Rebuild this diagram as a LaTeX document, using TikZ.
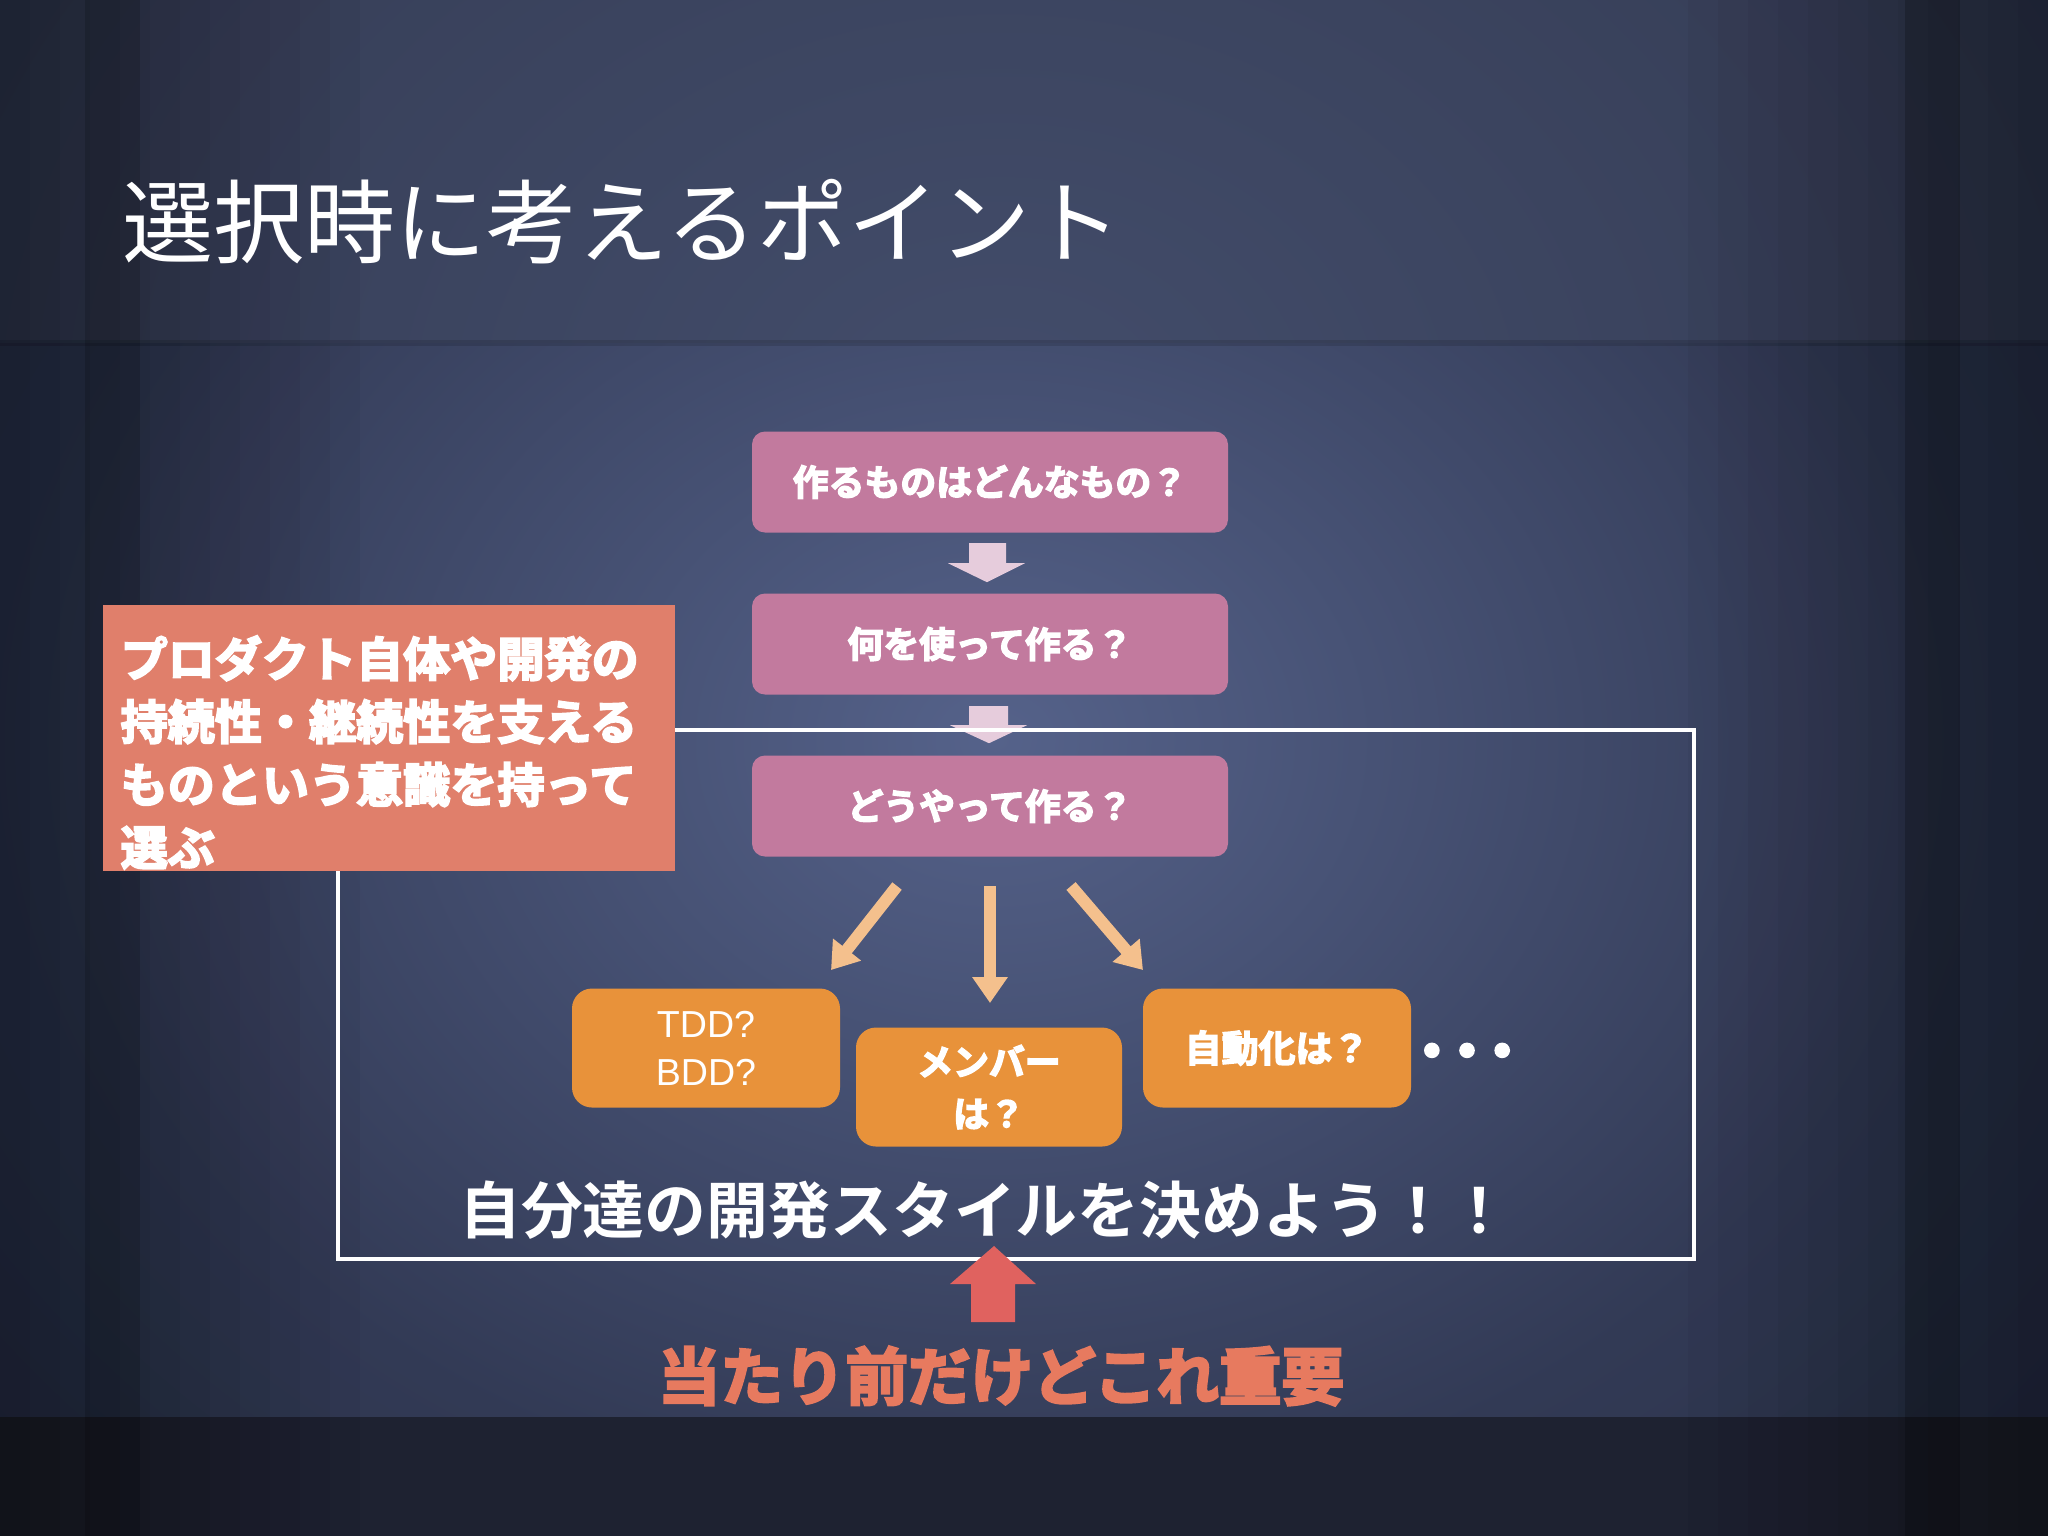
\documentclass[tikz,border=0pt]{standalone}
\usepackage{fontspec}
\setmainfont{Noto Sans CJK JP}
\newfontfamily\jpreg{Noto Sans CJK JP}
\newfontfamily\jpbold{Noto Sans CJK JP}[UprightFont={* Bold}]
\newfontfamily\jpheavy{Noto Sans CJK JP}[UprightFont={* Bold},FakeBold=4]
\newfontfamily\latinsans{Liberation Sans}
\usetikzlibrary{arrows.meta,calc}
\definecolor{pinkbox}{HTML}{C27A9E}
\definecolor{pinkarrow}{HTML}{E6CCDC}
\definecolor{orangebox}{HTML}{E8923A}
\definecolor{orangearrow}{HTML}{F4C08D}
\definecolor{salmonbox}{HTML}{E07F6B}
\definecolor{redarrow}{HTML}{E0625F}
\definecolor{redtext}{HTML}{E77A5F}
\definecolor{bgout}{HTML}{1E2231}
\definecolor{bgmid}{HTML}{323A55}
\definecolor{bgin}{HTML}{55628A}
\definecolor{topin}{HTML}{434D6B}
\definecolor{topout}{HTML}{23283A}
\definecolor{botband}{HTML}{1E2231}
\pgfdeclareradialshading{glow}{\pgfpoint{0bp}{0bp}}{color(0bp)=(bgin); color(15bp)=(bgmid); color(38bp)=(bgout); color(80bp)=(bgout)}
\pgfdeclareradialshading{topglow}{\pgfpoint{0bp}{0bp}}{color(0bp)=(topin); color(40bp)=(topout); color(80bp)=(topout)}
\tikzset{
  pinkstep/.style={fill=pinkbox, rounded corners=1.3mm, minimum width=47.6mm, minimum height=10.1mm, inner sep=0pt, text=white, font=\jpheavy\fontsize{10.2}{12}\selectfont},
  orangestep/.style={fill=orangebox, rounded corners=2mm, minimum width=26.8mm, minimum height=11.9mm, inner sep=0pt, text=white, align=center},
  thinarrow/.style={draw=orangearrow, line width=1.2mm, -{Triangle[width=3.4mm,length=2.6mm]}},
}
\begin{document}
\begin{tikzpicture}[x=0.1mm,y=-0.1mm]
\useasboundingbox (0,0) rectangle (2048,1536);
% background
\fill[bgout] (0,0) rectangle (2048,1536);
\begin{scope}
  \clip (0,342) rectangle (2048,1417);
  \shade[shading=glow] (995,740) ellipse (1600 and 1300);
\end{scope}
\begin{scope}
  \clip (0,0) rectangle (2048,342);
  \shade[shading=topglow] (1000,420) ellipse (1600 and 1250);
\end{scope}
\fill[botband] (0,1417) rectangle (2048,1536);
\fill[black, opacity=0.12] (0,340) rectangle (2048,346);
\foreach \i in {1,...,12} {
  \fill[black, opacity=0.035] (0,0) rectangle (\i*30,1536);
  \fill[black, opacity=0.035] (2048-\i*30,0) rectangle (2048,1536);
}
\fill[black, opacity=0.15] (85,0) rectangle (140,1536);
\fill[black, opacity=0.2] (1905,0) rectangle (1960,1536);

% title
\node[anchor=west, inner sep=0pt, text=white, font=\jpreg\fontsize{25.9}{30}\selectfont] (title) at (122,222) {選択時に考えるポイント};

% pink flow
\node[pinkstep] (p1) at (990,482) {作るものはどんなもの？};
\node[pinkstep] (p2) at (990,644) {何を使って作る？};
\node[pinkstep] (p3) at (990,806) {どうやって作る？};
\fill[pinkarrow] ($(p1.south)+(-21,10)$) -- ($(p1.south)+(16,10)$) -- ($(p1.south)+(16,30)$) -- ($(p1.south)+(35,30)$) -- ($(p1.south)+(-3,49)$) -- ($(p1.south)+(-42,30)$) -- ($(p1.south)+(-21,30)$) -- cycle;
\fill[pinkarrow] ($(p2.south)+(-21,11)$) -- ($(p2.south)+(18,11)$) -- ($(p2.south)+(18,30)$) -- ($(p2.south)+(37,30)$) -- ($(p2.south)+(-1,48)$) -- ($(p2.south)+(-40,30)$) -- ($(p2.south)+(-21,30)$) -- cycle;

% frame
\draw[white, line width=0.4mm] (338,730) rectangle (1694,1259);

% left note
\node[fill=salmonbox, minimum width=57.2mm, minimum height=26.6mm, anchor=north west, inner sep=0pt] (leftbox) at (102,604) {};
\node[anchor=north west, inner sep=0pt, align=left, text=white, font=\jpheavy\fontsize{13.4}{17.9}\selectfont] (lefttext) at (120,635) {プロダクト自体や開発の\\持続性・継続性を支える\\ものという意識を持って\\選ぶ};

% orange boxes
\node[orangestep, font=\latinsans\fontsize{10.7}{13.7}\selectfont] (tdd) at (706,1048) {TDD?\\BDD?};
\node[orangestep, minimum width=26.6mm, font=\jpheavy\fontsize{10.2}{14.8}\selectfont] (mem) at (989,1087) {メンバー\\は？};
\node[orangestep, font=\jpheavy\fontsize{10.5}{12}\selectfont] (auto) at (1277,1048) {自動化は？};
\node[anchor=center, inner sep=0pt, text=white, font=\jpheavy\fontsize{15}{16}\selectfont] (dots) at (1467,1057) {・\kern-5pt・\kern-5pt・};

% orange arrows
\coordinate (aL) at (897,886);
\coordinate (aM) at (990,886);
\coordinate (aR) at (1071,886);
\coordinate (tL) at (831,970);
\coordinate (tM) at (990,1003);
\coordinate (tR) at (1143,970);
\draw[thinarrow] (aL) -- (tL);
\draw[thinarrow] (aM) -- (tM);
\draw[thinarrow] (aR) -- (tR);

% slogan
\node[inner sep=0pt, text=white, font=\jpbold\fontsize{17.6}{20}\selectfont] (slogan) at (985,1210) {自分達の開発スタイルを決めよう！！};

% red arrow and text
\node[inner sep=0pt, text=redtext, font=\jpheavy\fontsize{17.8}{20}\selectfont] (important) at (1001,1376) {当たり前だけどこれ重要};
\fill[redarrow] (971,1322) -- (1015,1322) -- (1015,1284) -- (1036,1284) -- (994,1246) -- (950,1284) -- (971,1284) -- cycle;
\end{tikzpicture}
\end{document}
